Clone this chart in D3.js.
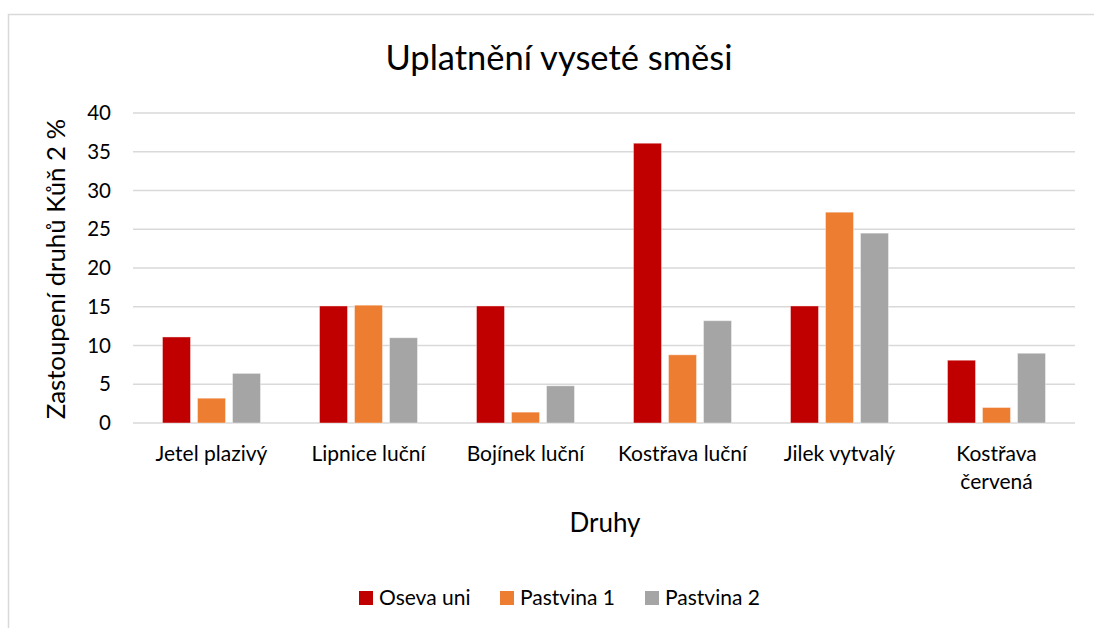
<!DOCTYPE html>
<html>
<head>
<meta charset="utf-8">
<script src="https://cdn.jsdelivr.net/npm/d3@7"></script>
<style>
  body { margin: 0; background: #fff; }
  text { font-family: Lato, "Open Sans", sans-serif; fill: #000; }
</style>
</head>
<body>
<svg id="chart" width="1094" height="628"></svg>
<script>
// data
const categories = ['Jetel plazivý', 'Lipnice luční', 'Bojínek luční', 'Kostřava luční', 'Jilek vytvalý', 'Kostřava červená'];
const seriesNames = ['Oseva uni', 'Pastvina 1', 'Pastvina 2'];
const osevaUni = [11.1, 15.1, 15.1, 36.1, 15.1, 8.1];
const pastvina1 = [3.2, 15.2, 1.4, 8.8, 27.2, 2.0];
const pastvina2 = [6.4, 11.0, 4.8, 13.2, 24.5, 9.0];
const yTicks = [0, 5, 10, 15, 20, 25, 30, 35, 40];
const colors = ['#c00000', '#ed7d31', '#a5a5a5'];

const seriesValues = [osevaUni, pastvina1, pastvina2];

const svg = d3.select('#chart');

// chart border
svg.append('rect')
    .attr('x', 8.5).attr('y', 14.5)
    .attr('width', 1100).attr('height', 700)
    .attr('fill', 'none')
    .attr('stroke', '#d9d9d9')
    .attr('stroke-width', 1.5);

const margin = { top: 113, left: 133, right: 1075, bottom: 423 };

const x = d3.scaleBand()
    .domain(categories)
    .range([margin.left, margin.right])
    .paddingInner(0)
    .paddingOuter(0);

const inner = d3.scaleBand()
    .domain(seriesNames)
    .range([29.5, x.bandwidth() - 29.5])
    .paddingInner(0.2);

const y = d3.scaleLinear()
    .domain([0, 40])
    .range([margin.bottom, margin.top]);

// gridlines
svg.append('g')
    .selectAll('line')
    .data(yTicks)
    .join('line')
    .attr('x1', margin.left)
    .attr('x2', margin.right)
    .attr('y1', d => y(d))
    .attr('y2', d => y(d))
    .attr('stroke', '#d9d9d9')
    .attr('stroke-width', 1.5);

// y axis labels
const yAxis = d3.axisLeft(y).tickValues(yTicks).tickSize(0).tickPadding(0);
const gy = svg.append('g')
    .attr('transform', `translate(111,0)`)
    .call(yAxis);
gy.select('.domain').remove();
gy.selectAll('text')
    .style('font-family', 'Lato, sans-serif')
    .style('font-size', '20.5px')
    .attr('fill', '#000');

// bars
const groups = svg.append('g')
    .selectAll('g')
    .data(categories)
    .join('g')
    .attr('transform', d => `translate(${x(d)},0)`);

groups.selectAll('rect')
    .data((d, i) => seriesNames.map((s, j) => ({ s, v: seriesValues[j][i], c: colors[j] })))
    .join('rect')
    .attr('x', d => inner(d.s))
    .attr('width', inner.bandwidth())
    .attr('y', d => y(d.v))
    .attr('height', d => y(0) - y(d.v))
    .attr('fill', d => d.c)
    .attr('stroke', '#fff')
    .attr('stroke-opacity', 0.4)
    .attr('stroke-width', 1);

// category labels
const labels = svg.append('g')
    .selectAll('text')
    .data(categories)
    .join('text')
    .attr('x', d => x(d) + x.bandwidth() / 2)
    .attr('y', 461)
    .attr('text-anchor', 'middle')
    .style('font-size', '21px');

labels.each(function (d) {
    const t = d3.select(this);
    const maxW = x.bandwidth() - 10;
    t.text(d);
    if (this.getComputedTextLength() > maxW) {
        const words = d.split(' ');
        t.text(null);
        words.forEach((w, i) => {
            t.append('tspan')
                .attr('x', x(d) + x.bandwidth() / 2)
                .attr('dy', i === 0 ? 0 : 28)
                .text(w);
        });
    }
});

// title
svg.append('text')
    .attr('x', 559)
    .attr('y', 70)
    .attr('text-anchor', 'middle')
    .style('font-size', '34.5px')
    .text('Uplatnění vyseté směsi');

// axis titles
svg.append('text')
    .attr('x', 605)
    .attr('y', 532)
    .attr('text-anchor', 'middle')
    .style('font-size', '26px')
    .text('Druhy');

svg.append('text')
    .attr('transform', 'translate(65,269) rotate(-90)')
    .attr('text-anchor', 'middle')
    .style('font-size', '25.8px')
    .text('Zastoupení druhů Kůň 2 %');

// legend
const legendX = [359, 500, 645];
const legend = svg.append('g')
    .selectAll('g')
    .data(seriesNames)
    .join('g')
    .attr('transform', (d, i) => `translate(${legendX[i]},591)`);

legend.append('rect')
    .attr('width', 14)
    .attr('height', 14)
    .attr('fill', (d, i) => colors[i]);

legend.append('text')
    .attr('x', 20)
    .attr('y', 14)
    .style('font-size', '21px')
    .text(d => d);
</script>
</body>
</html>
